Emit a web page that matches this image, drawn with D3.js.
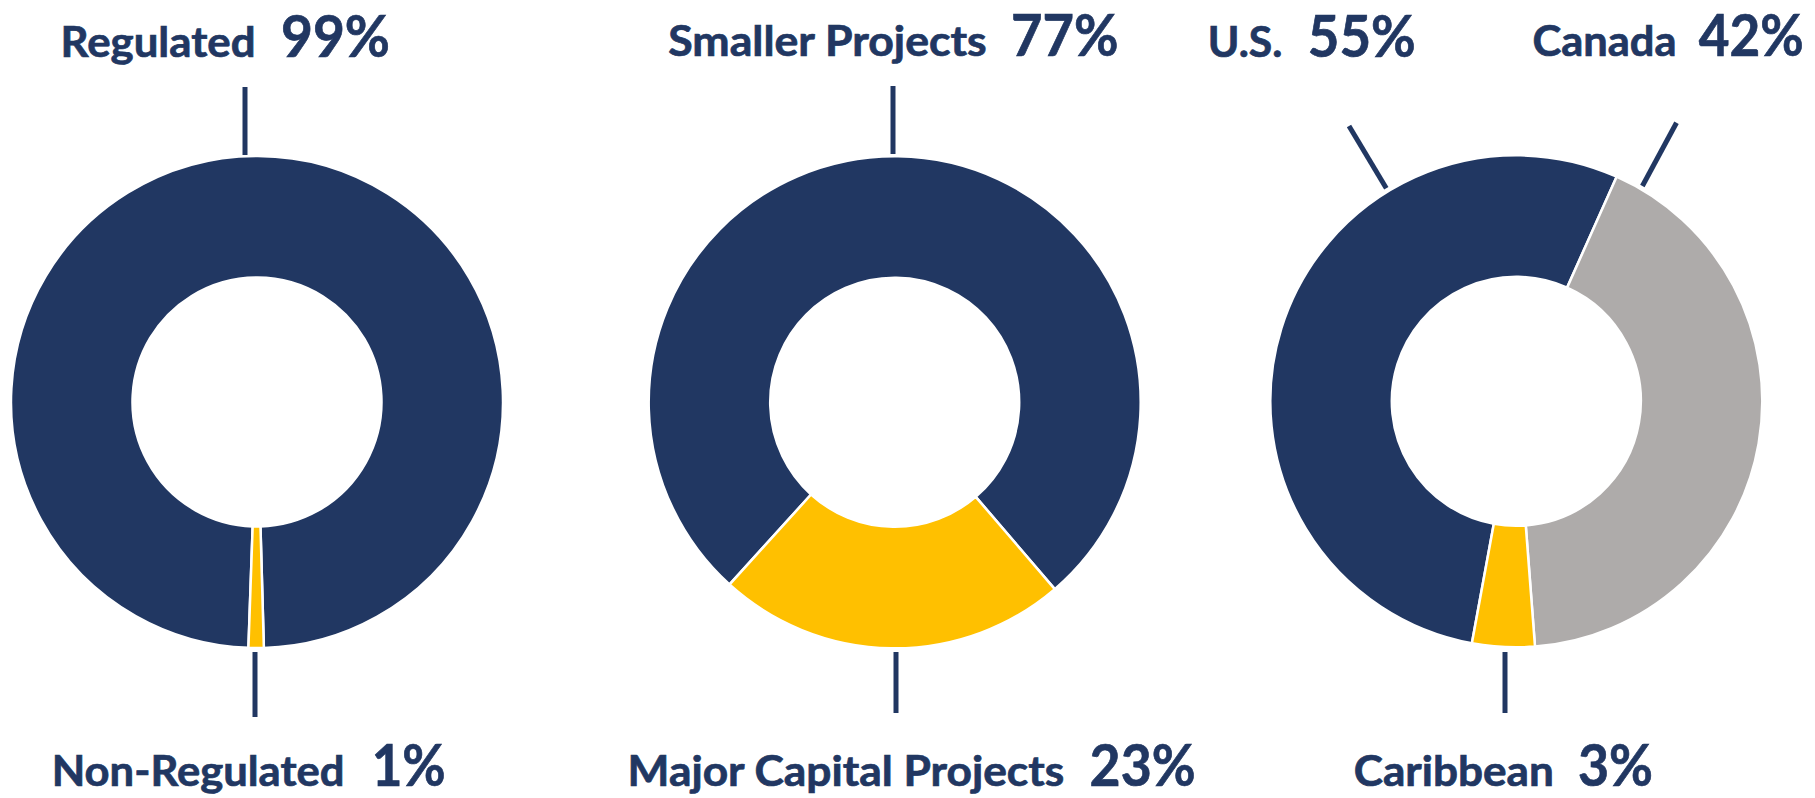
<!DOCTYPE html>
<html>
<head>
<meta charset="utf-8">
<script src="https://cdn.jsdelivr.net/npm/d3@7"></script>
<style>
  html, body { margin: 0; padding: 0; background: #ffffff; }
  svg { display: block; }
  text { font-family: Lato, "Open Sans", sans-serif; font-weight: 700; }
</style>
</head>
<body>
<svg id="chart" width="1815" height="798"></svg>
<script>
// ---------- data ----------
const regulatedCategories = ["Regulated", "Non-Regulated"];
const regulatedValues     = [99, 1];
const regulatedLabels     = ["99%", "1%"];

const projectCategories   = ["Smaller Projects", "Major Capital Projects"];
const projectValues       = [77, 23];
const projectLabels       = ["77%", "23%"];

const regionCategories    = ["U.S.", "Canada", "Caribbean"];
const regionValues        = [53.8, 42.1, 4.1];   // slice sizes as drawn
const regionLabels        = ["55%", "42%", "3%"]; // printed labels

const regulatedColors = ["#213762", "#FFC000"];
const projectColors   = ["#213762", "#FFC000"];
const regionColors    = ["#213762", "#AEABAA", "#FFC000"];

// ---------- layout ----------
const TEXT = "#213762";
const deg = Math.PI / 180;
const outerR = 246, innerR = 124.5;
const bottomY = 785.5;

const donuts = [
  { cats: regulatedCategories, vals: regulatedValues, pcts: regulatedLabels, colors: regulatedColors,
    cx: 257, cy: 402, start: 182 * deg,
    labels: [
      { x: 60.5, y: 56.5, nameW: 195, gap: 25.5, pctW: 109, line: [245, 87, 245, 155] },
      { x: 51.7, y: bottomY, nameW: 292.7, gap: 27.3, pctW: 74, line: [255, 652, 255, 717] }
    ] },
  { cats: projectCategories, vals: projectValues, pcts: projectLabels, colors: projectColors,
    cx: 894.7, cy: 402.3, start: 222.2 * deg,
    labels: [
      { x: 668.3, y: 55.5, nameW: 318.4, gap: 24.3, pctW: 107.5, line: [893, 86, 893, 154] },
      { x: 627.6, y: bottomY, nameW: 436.6, gap: 25.4, pctW: 106, line: [896, 652, 896, 713] }
    ] },
  { cats: regionCategories, vals: regionValues, pcts: regionLabels, colors: regionColors,
    cx: 1516.3, cy: 401.3, start: 190.4 * deg,
    labels: [
      { x: 1207.8, y: 56.5, nameW: 74.6, gap: 25.4, pctW: 108, line: [1349, 126, 1386.3, 188.3] },
      { x: 1532.5, y: 55.5, nameW: 144, gap: 22.3, pctW: 105, line: [1676.5, 122.7, 1642.4, 186] },
      { x: 1353.8, y: bottomY, nameW: 200, gap: 24.1, pctW: 75, line: [1505, 652, 1505, 713] }
    ] }
];

const svg = d3.select("#chart");
const arc = d3.arc().innerRadius(innerR).outerRadius(outerR);

donuts.forEach(d => {
  const pie = d3.pie().sort(null).value(v => v)
    .startAngle(d.start).endAngle(d.start + 2 * Math.PI);
  const arcs = pie(d.vals);
  const g = svg.append("g").attr("transform", `translate(${d.cx},${d.cy})`);
  g.selectAll("path").data(arcs).join("path")
    .attr("d", arc)
    .attr("fill", (a, i) => d.colors[i])
    .attr("stroke", "#ffffff")
    .attr("stroke-width", 2.5)
    .attr("stroke-linejoin", "miter");

  d.labels.forEach((lb, i) => {
    svg.append("line")
      .attr("x1", lb.line[0]).attr("y1", lb.line[1])
      .attr("x2", lb.line[2]).attr("y2", lb.line[3])
      .attr("stroke", TEXT).attr("stroke-width", 5);

    const name = svg.append("text")
      .attr("x", lb.x).attr("y", lb.y)
      .attr("fill", TEXT).attr("stroke", TEXT).attr("stroke-width", 0.7)
      .attr("font-size", 42)
      .text(d.cats[i]);
    const nl = name.node().getComputedTextLength();
    if (Math.abs(nl - lb.nameW) > 1) name.attr("textLength", lb.nameW).attr("lengthAdjust", "spacingAndGlyphs");

    const pct = svg.append("text")
      .attr("x", lb.x + lb.nameW + lb.gap).attr("y", lb.y)
      .attr("fill", TEXT).attr("stroke", TEXT).attr("stroke-width", 0.7)
      .attr("font-size", 58)
      .text(d.pcts[i]);
    const pl = pct.node().getComputedTextLength();
    if (Math.abs(pl - lb.pctW) > 1) pct.attr("textLength", lb.pctW).attr("lengthAdjust", "spacingAndGlyphs");
  });
});
</script>
</body>
</html>
